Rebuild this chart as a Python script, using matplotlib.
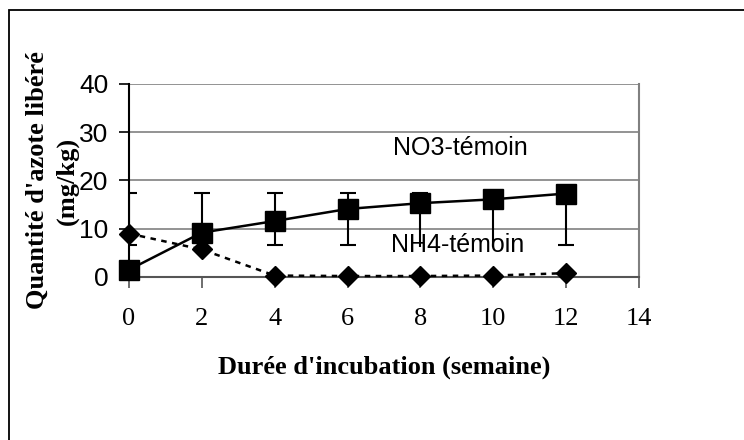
import matplotlib
matplotlib.use("Agg")
import matplotlib.pyplot as plt
from matplotlib.patches import Rectangle

# Incubation time (weeks)
weeks = [0, 2, 4, 6, 8, 10, 12]
# Nitrate released (mg/kg), control soil
no3_temoin = [1.5, 9.2, 11.6, 14.1, 15.3, 16.1, 17.3]
# Ammonium released (mg/kg), control soil
nh4_temoin = [9.0, 5.7, 0.3, 0.2, 0.2, 0.3, 0.8]
# Error bar range for the nitrate series
err_low = [6.6, 9.2, 6.6, 6.6, 6.3, 6.3, 6.6]
err_high = [17.5, 17.5, 17.5, 17.5, 17.5, 17.5, 17.5]
low_cap = [True, False, True, True, False, False, True]

x_ticks = [0, 2, 4, 6, 8, 10, 12, 14]
y_ticks = [0, 10, 20, 30, 40]

sans = "Liberation Sans"
serif = "Liberation Serif"

fig = plt.figure(figsize=(7.44, 4.4), dpi=100)
ax = fig.add_axes([129 / 744, 1 - 277 / 440, 510 / 744, 193 / 440])

# outer frame
fig.add_artist(Rectangle((9 / 744, -0.2), 1.2, (1 - 10 / 440) + 0.2,
                         transform=fig.transFigure, fill=False,
                         edgecolor="black", lw=1.3))

ax.set_xlim(0, 14)
ax.set_ylim(0, 40)
ax.set_xticks(x_ticks)
ax.set_yticks(y_ticks)
ax.set_xticklabels([str(t) for t in x_ticks], fontfamily=serif, fontsize=19)
ax.set_yticklabels([str(t) for t in y_ticks], fontfamily=sans, fontsize=19)
ax.tick_params(axis="y", direction="out", length=7, width=1.2, pad=8,
               color="black")
ax.tick_params(axis="x", direction="out", length=8, width=1.2, pad=14,
               color="#555555")

for v in y_ticks[1:]:
    ax.axhline(v, color="#808080", lw=1.2, zorder=1)

ax.spines["left"].set_color("black")
ax.spines["left"].set_linewidth(1.5)
ax.spines["bottom"].set_color("#555555")
ax.spines["bottom"].set_linewidth(1.5)
ax.spines["right"].set_color("#808080")
ax.spines["right"].set_linewidth(1.5)
ax.spines["top"].set_visible(False)

# error bars
ax.vlines(weeks, err_low, err_high, color="black", lw=1.5, zorder=2)
ax.plot(weeks, err_high, linestyle="none", marker="_", ms=11, mew=1.5,
        color="black", zorder=2)
ax.plot([w for w, c in zip(weeks, low_cap) if c],
        [v for v, c in zip(err_low, low_cap) if c],
        linestyle="none", marker="_", ms=11, mew=1.5, color="black", zorder=2)

ax.plot(weeks, nh4_temoin, color="black", lw=1.8, dashes=(2.2, 2.2),
        marker="D", ms=10, zorder=3, clip_on=False)
ax.plot(weeks, no3_temoin, color="black", lw=1.8, marker="s", ms=14,
        zorder=4, clip_on=False)

ax.text(7.25, 26.8, "NO3-témoin", fontfamily=sans, fontsize=18,
        ha="left", va="center", zorder=5)
ax.text(7.2, 6.6, "NH4-témoin", fontfamily=sans, fontsize=18,
        ha="left", va="center", zorder=5)

ax.set_xlabel("Durée d'incubation (semaine)", fontfamily=serif,
              fontweight="bold", fontsize=19, labelpad=19)
ax.set_ylabel("Quantité d'azote libéré\n(mg/kg)", fontfamily=serif,
              fontweight="bold", fontsize=19, labelpad=0, linespacing=1.35)

fig.savefig("out.png", dpi=100)
